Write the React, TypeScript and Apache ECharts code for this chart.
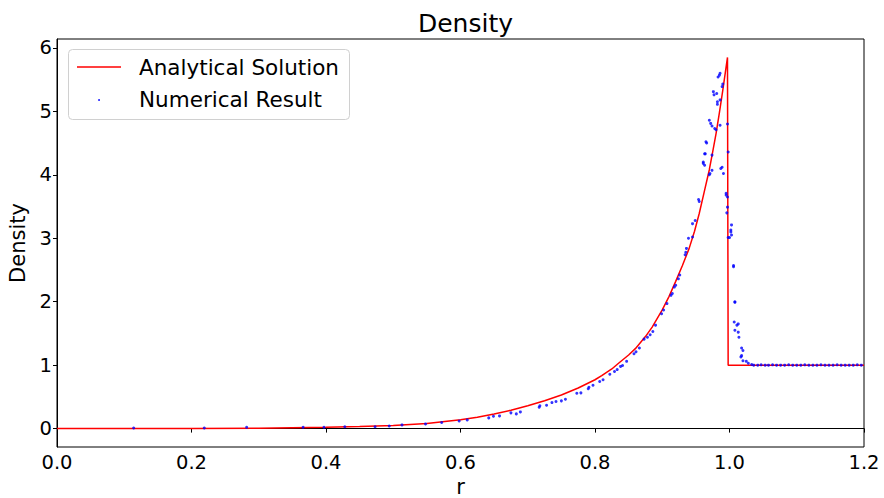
import React, { useEffect, useRef } from "react";
import * as echarts from "echarts";

// Analytical (Sedov) density profile
const analyticR = [
  0, 0.1, 0.2, 0.3, 0.4, 0.45, 0.5, 0.55, 0.6, 0.625, 0.65, 0.675, 0.7, 0.725, 0.75, 0.775, 0.8, 0.81, 0.825,
  0.835, 0.85, 0.86, 0.875, 0.885, 0.9, 0.91, 0.92, 0.93, 0.94, 0.948, 0.955, 0.962, 0.97, 0.975, 0.98, 0.985,
  0.99, 0.997, 0.998, 1.2,
];
const analyticRho = [
  0, 0.0005, 0.002, 0.006, 0.02, 0.032, 0.05, 0.08, 0.14, 0.18, 0.23, 0.29, 0.36, 0.44, 0.53, 0.64, 0.77, 0.835, 0.94,
  1.03, 1.16, 1.26, 1.45, 1.6, 1.87, 2.08, 2.32, 2.57, 2.84, 3.11, 3.39, 3.71, 4.08, 4.36, 4.65, 4.98,
  5.33, 5.85, 1.0, 1.0,
];

// Numerical result points
const numR = [
  0.114, 0.219, 0.282, 0.366, 0.397, 0.428, 0.473, 0.494, 0.513, 0.548, 0.572, 0.598, 0.61, 0.642, 0.649, 0.658,
  0.675, 0.683, 0.689, 0.717, 0.718, 0.728, 0.736, 0.742, 0.75, 0.756, 0.773, 0.779, 0.79, 0.791, 0.797, 0.807,
  0.812, 0.822, 0.829, 0.833, 0.838, 0.841, 0.847, 0.858, 0.861, 0.866, 0.873, 0.878, 0.882, 0.886, 0.89, 0.899,
  0.902, 0.907, 0.913, 0.915, 0.918, 0.92, 0.924, 0.926, 0.934, 0.935, 0.936, 0.939, 0.945, 0.945, 0.949, 0.954,
  0.955, 0.961, 0.961, 0.963, 0.963, 0.964, 0.965, 0.966, 0.97, 0.971, 0.97, 0.972, 0.974, 0.974, 0.974, 0.976,
  0.977, 0.978, 0.98, 0.981, 0.982, 0.982, 0.983, 0.985, 0.986, 0.986, 0.986, 0.987, 0.989, 0.989, 0.99, 0.991,
  0.995, 0.995, 0.996, 0.997, 0.997, 0.997, 0.998, 0.998, 1.0, 1.002, 1.002, 1.003, 1.003, 1.006, 1.006, 1.008,
  1.008, 1.007, 1.008, 1.011, 1.013, 1.013, 1.014, 1.018, 1.02, 1.018, 1.017, 1.02, 1.025, 1.028, 1.033, 1.036,
  1.042, 1.047, 1.053, 1.058, 1.064, 1.07, 1.076, 1.082, 1.088, 1.094, 1.1, 1.106, 1.112, 1.118, 1.124, 1.13,
  1.136, 1.142, 1.148, 1.154, 1.16, 1.166, 1.172, 1.178, 1.184, 1.19, 1.196,
];
const numRho = [
  0.01, 0.01, 0.02, 0.02, 0.02, 0.03, 0.03, 0.04, 0.058, 0.074, 0.095, 0.12, 0.137, 0.169, 0.195, 0.2,
  0.248, 0.232, 0.263, 0.337, 0.36, 0.368, 0.41, 0.426, 0.437, 0.463, 0.557, 0.563, 0.627, 0.652, 0.684, 0.742,
  0.769, 0.857, 0.9, 0.93, 0.98, 0.995, 1.06, 1.18, 1.21, 1.27, 1.41, 1.44, 1.48, 1.53, 1.63, 1.81,
  1.87, 1.97, 2.1, 2.13, 2.23, 2.26, 2.36, 2.42, 2.74, 2.78, 2.84, 3.0, 3.02, 3.23, 3.28, 3.61,
  3.58, 4.18, 4.2, 4.15, 4.33, 4.33, 4.52, 4.5, 4.0, 4.02, 4.86, 4.81, 4.77, 4.07, 4.31, 5.31,
  5.26, 4.73, 4.71, 5.28, 5.15, 5.11, 5.54, 5.57, 5.6, 5.18, 4.78, 4.1, 4.12, 5.39, 5.43, 4.02,
  3.71, 3.68, 3.4, 3.65, 3.49, 4.8, 4.36, 3.01, 3.01, 3.13, 3.1, 3.21, 3.05, 2.55, 2.57, 1.99,
  2.0, 1.68, 1.55, 1.63, 1.65, 1.52, 1.44, 1.27, 1.23, 1.15, 1.13, 1.07, 1.06, 1.03, 1.01, 1.0,
  1.0, 1.005, 1.0, 1.0, 1.005, 1.0, 1.0, 1.0, 1.005, 1.0, 1.0, 1.0, 1.005, 1.0, 1.0, 1.0,
  1.005, 1.0, 1.0, 1.0, 1.005, 1.0, 1.0, 1.0, 1.0, 1.005, 1.0,
];

const yTicks = [0, 1, 2, 3, 4, 5, 6];

const FONT = "DejaVu Sans";

export default function App() {
  const ref = useRef<HTMLDivElement>(null);
  useEffect(() => {
    if (!ref.current) return;
    const chart = echarts.init(ref.current, null, { renderer: "svg" });
    const lineData = analyticR.map((r, i) => [r, analyticRho[i]]);
    const scatterData = numR.map((r, i) => [r, numRho[i]]);
    chart.setOption({
      animation: false,
      backgroundColor: "#fff",
      textStyle: { fontFamily: FONT },
      title: {
        text: "Density",
        left: 460.5,
        textAlign: "center",
        top: 6,
        textStyle: { fontFamily: FONT, fontSize: 25, fontWeight: "normal", color: "#000" },
      },
      grid: {
        left: 57,
        right: 20,
        top: 39,
        bottom: 51,
        show: true,
        borderColor: "#000",
        borderWidth: 1,
        backgroundColor: "transparent",
        containLabel: false,
        outerBoundsMode: "none",
      },
      xAxis: {
        type: "value",
        min: 0,
        max: 1.2,
        interval: 0.2,
        name: "r",
        nameLocation: "middle",
        nameGap: 29,
        nameTextStyle: { fontFamily: FONT, fontSize: 21, color: "#000" },
        axisLine: { show: true, lineStyle: { color: "#000", width: 1 } },
        axisTick: { show: true, length: 4, lineStyle: { color: "#000" } },
        axisLabel: {
          fontFamily: FONT,
          fontSize: 19.5,
          color: "#000",
          margin: 5,
          formatter: (v: number) => v.toFixed(1),
          showMinLabel: true,
          showMaxLabel: true,
        },
        splitLine: { show: false },
      },
      yAxis: {
        type: "value",
        min: -0.29,
        max: 6.14,
        name: "Density",
        nameLocation: "middle",
        nameGap: 25,
        nameRotate: 90,
        nameTextStyle: { fontFamily: FONT, fontSize: 21, color: "#000" },
        axisLine: { show: true, lineStyle: { color: "#000", width: 1 } },
        axisTick: { show: true, length: 4, lineStyle: { color: "#000" }, customValues: yTicks },
        axisLabel: {
          fontFamily: FONT,
          fontSize: 19.5,
          color: "#000",
          margin: 5,
          customValues: yTicks,
          formatter: (v: number) => String(Math.round(v)),
        },
        splitLine: { show: false },
      },
      series: [
        {
          name: "Analytical Solution",
          type: "line",
          data: lineData,
          showSymbol: false,
          symbol: "none",
          smooth: false,
          lineStyle: { color: "#ff0000", width: 1.5 },
          z: 2,
        },
        {
          name: "Numerical Result",
          type: "scatter",
          data: scatterData,
          symbol: "circle",
          symbolSize: 3,
          itemStyle: { color: "#0000ff" },
          z: 3,
        },
      ],
      graphic: [
        {
          type: "group",
          z: 100,
          children: [
            {
              type: "rect",
              shape: { x: 68.5, y: 49.5, width: 281, height: 70, r: 4 },
              style: { fill: "rgba(255,255,255,0.8)", stroke: "#d0d0d0", lineWidth: 1 },
            },
            {
              type: "line",
              shape: { x1: 77, y1: 67, x2: 121, y2: 67 },
              style: { stroke: "#ff0000", lineWidth: 1.5 },
            },
            {
              type: "text",
              x: 139,
              y: 67,
              style: {
                text: "Analytical Solution",
                fontFamily: FONT,
                fontSize: 21.5,
                fill: "#000",
                verticalAlign: "middle",
                align: "left",
              },
            },
            {
              type: "circle",
              shape: { cx: 99, cy: 100, r: 0.9 },
              style: { fill: "#0000ff" },
            },
            {
              type: "text",
              x: 139,
              y: 99,
              style: {
                text: "Numerical Result",
                fontFamily: FONT,
                fontSize: 21.5,
                fill: "#000",
                verticalAlign: "middle",
                align: "left",
              },
            },
          ],
        },
      ],
    });
    return () => chart.dispose();
  }, []);
  return <div ref={ref} style={{ width: 884, height: 498, position: "absolute", left: 0, top: 0 }} />;
}
